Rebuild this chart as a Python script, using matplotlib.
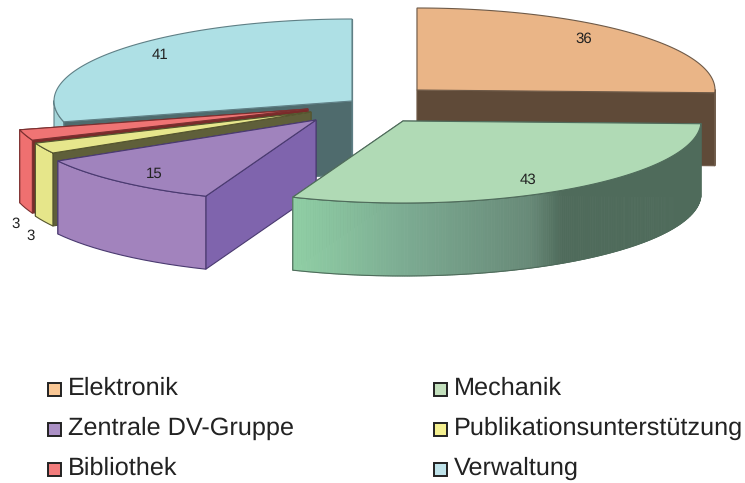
import numpy as np
import matplotlib
matplotlib.use('Agg')
import matplotlib.pyplot as plt
from matplotlib.colors import LinearSegmentedColormap
from matplotlib.patches import Polygon, Rectangle

plt.rcParams['font.family'] = ['Liberation Sans', 'DejaVu Sans']
plt.rcParams['text.hinting'] = 'none'

# Data
categories = ['Elektronik', 'Mechanik', 'Zentrale DV-Gruppe',
              'Publikationsunterstützung', 'Bibliothek', 'Verwaltung']
values = [36, 43, 15, 3, 3, 41]

# Styles, one entry per slice
top_colors = ['#eab587', '#b0dab5', '#a083bd', '#e6e68c', '#ef7474', '#aee0e5']
rim_colors = ['#eab587', None, '#a283bd', '#e6e68a', '#ef7070', '#a5d6da']
cut_colors = ['#5f4a38', '#4f6b5b', '#7f64ad', '#5f5f3a', '#7a2a2a', '#4f6b6d']
line_colors = ['#6e5a48', '#4f6b5b', '#4a3a70', '#55552f', '#7a3030', '#5f7f85']
legend_colors = ['#f9c795', '#c3e0bd', '#ab90c5', '#f4f090', '#f27c7c', '#bfe3ea']
centers = [(417, 90), (403, 121), (316, 120), (311, 112), (308, 109), (352, 101)]
label_pos = [(584, 39), (528, 180), (154, 174), (31, 236), (16, 224), (160, 55)]
label_text = ['36', '43', '15', '3', '3', '41']
draw_order = [5, 0, 4, 3, 2, 1]

RX, RY, DEPTH = 298, 82, 73
mech_cmap = LinearSegmentedColormap.from_list(
    'mech', [(0, '#90cfa5'), (0.3, '#7aa890'), (0.58, '#688a78'), (0.66, '#4f6b5b'), (1, '#4f6b5b')])

# slice angles, clockwise from the top
fracs = np.array(values) / sum(values)
ends = 90 - 360 * np.cumsum(fracs)
starts = ends + 360 * fracs

fig = plt.figure(figsize=(7.45, 4.83), dpi=100)
ax = fig.add_axes([0, 0, 1, 1])
ax.set_xlim(0, 745)
ax.set_ylim(483, 0)
ax.axis('off')


def arc(cx, cy, a0, a1, n=240):
    t = np.radians(np.linspace(a0, a1, n))
    # screen y points down, so the sign is flipped
    return np.column_stack([cx + RX * np.cos(t), cy - RY * np.sin(t)])


z = 1
for i in draw_order:
    cx, cy = centers[i]
    a0, a1 = starts[i], ends[i]
    lc = line_colors[i]
    pts = arc(cx, cy, a0, a1)
    down = np.array([0, DEPTH])

    # cut faces, the one nearer the viewer goes last so it hides the other
    for edge in sorted((pts[0], pts[-1]), key=lambda e: e[1]):
        quad = [(cx, cy), edge, edge + down, (cx, cy + DEPTH)]
        ax.add_patch(Polygon(quad, fc=cut_colors[i], ec=lc, lw=0.8, zorder=z))
        z += 0.1

    # outer rim, only the part that faces the viewer
    front = pts[pts[:, 1] >= cy - 0.5]
    if len(front) > 1:
        if rim_colors[i] is None:
            xmin, xmax = front[:, 0].min(), front[:, 0].max()
            for p, q in zip(front[:-1], front[1:]):
                col = mech_cmap(((p[0] + q[0]) / 2 - xmin) / (xmax - xmin))
                ax.add_patch(Polygon([p, q, q + down, p + down], fc=col, ec=col, lw=0.6, zorder=z + 1))
        else:
            ax.add_patch(Polygon(np.vstack([front, (front + down)[::-1]]),
                                 fc=rim_colors[i], ec='none', zorder=z + 1))
        outline = np.vstack([front, (front + down)[::-1], front[:1]])
        ax.plot(outline[:, 0], outline[:, 1], color=lc, lw=0.8, zorder=z + 2)

    # top face
    ax.add_patch(Polygon(np.vstack([[(cx, cy)], pts]), fc=top_colors[i], ec=lc, lw=0.8, zorder=z + 3))
    z += 4

for (x, y), s in zip(label_pos, label_text):
    ax.text(x, y, s, fontsize=10.8, color='#222222', ha='center', va='center', zorder=z)

# legend
legend_x = [48, 434]
legend_y = [388, 428, 468]
for k, name in enumerate(categories):
    x = legend_x[k % 2]
    y = legend_y[k // 2]
    ax.add_patch(Rectangle((x, y - 5), 13, 13, fc=legend_colors[k], ec='#222222', lw=1.4))
    ax.text(x + 19.5, y, name, fontsize=18.2, color='#222222', ha='left', va='center')

fig.savefig('out.png', dpi=100)
